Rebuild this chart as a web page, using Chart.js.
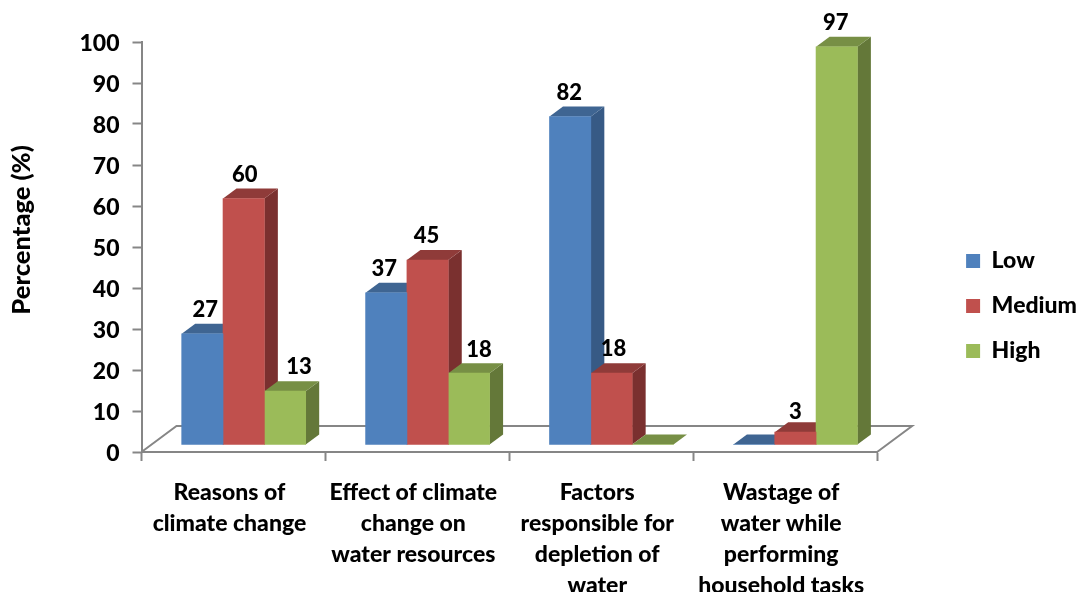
<!DOCTYPE html>
<html>
<head>
	<title>Percentage chart</title>
	<script src="https://cdn.jsdelivr.net/npm/chart.js"></script>
	<style type="text/css">
		html, body { margin: 0; padding: 0; background: #fff; }
		canvas { display: block; }
	</style>
</head>
<body>
	<canvas id="chart" width="1081" height="592"></canvas>
	<script>
		// chart values
		const categories = [
			['Reasons of', 'climate change'],
			['Effect of climate', 'change on', 'water resources'],
			['Factors', 'responsible for', 'depletion of', 'water'],
			['Wastage of', 'water while', 'performing', 'household tasks']
		];
		const seriesNames = ['Low', 'Medium', 'High'];
		// heights as drawn (the printed labels do not always agree with the bars)
		const lowValues = [27, 37, 80, 0];
		const mediumValues = [60, 45, 17.4, 3];
		const highValues = [13, 17.4, 0, 97];
		const lowLabels = ['27', '37', '82', ''];
		const mediumLabels = ['60', '45', '18', '3'];
		const highLabels = ['13', '18', '', '97'];
		const yTitle = 'Percentage (%)';

		const FONT = 'Lato, sans-serif';
		const WEIGHT = '900';
		const AXIS_GREY = '#868686';
		const faces = [
			{ front: '#4F81BD', top: '#3F6592', side: '#375A85' },
			{ front: '#C0504D', top: '#8F3B39', side: '#7A302F' },
			{ front: '#9BBB59', top: '#778F45', side: '#647839' }
		];
		// hand placed label nudges from the original: [dx, dy] per series and category
		const labelNudge = [
			[[3, 0], [-2, 0], [-1, 0], [0, 0]],
			[[1, 0], [-1, 0], [2, 0], [0, 4]],
			[[14, 0], [10, 1], [0, 0], [-1, 0]]
		];

		function toPoints(values) {
			return values.map((v, i) => ({ x: i + 1, y: v }));
		}

		function poly(ctx, color, pts) {
			ctx.fillStyle = color;
			ctx.beginPath();
			pts.forEach((p, i) => i ? ctx.lineTo(p[0], p[1]) : ctx.moveTo(p[0], p[1]));
			ctx.closePath();
			ctx.fill();
		}

		// floor of the 3D box and the side / top faces of the bars
		const depthPlugin = {
			id: 'depth',
			beforeDatasetsDraw(chart) {
				const ctx = chart.ctx, area = chart.chartArea;
				const fx = 35, fy = 26, dx = 13.5, dy = 10;
				ctx.save();
				ctx.strokeStyle = AXIS_GREY;
				ctx.lineWidth = 2;
				ctx.beginPath();
				ctx.moveTo(area.left, area.bottom);
				ctx.lineTo(area.left + fx, area.bottom - fy);
				ctx.lineTo(area.right + fx, area.bottom - fy);
				ctx.lineTo(area.right, area.bottom);
				ctx.stroke();
				chart.data.datasets.forEach((ds, d) => {
					chart.getDatasetMeta(d).data.forEach(bar => {
						const l = bar.x - bar.width / 2, r = bar.x + bar.width / 2;
						poly(ctx, faces[d].side, [[r, bar.y], [r + dx, bar.y - dy], [r + dx, bar.base - dy], [r, bar.base]]);
						poly(ctx, faces[d].top, [[l, bar.y], [l + dx, bar.y - dy], [r + dx, bar.y - dy], [r, bar.y]]);
					});
				});
				ctx.restore();
			},
			afterDatasetsDraw(chart) {
				const ctx = chart.ctx;
				const printed = [lowLabels, mediumLabels, highLabels];
				ctx.save();
				ctx.fillStyle = '#000';
				ctx.font = WEIGHT + ' 22px ' + FONT;
				ctx.textAlign = 'center';
				ctx.textBaseline = 'middle';
				chart.data.datasets.forEach((ds, d) => {
					chart.getDatasetMeta(d).data.forEach((bar, i) => {
						const nudge = labelNudge[d][i];
						ctx.fillText(printed[d][i], bar.x + nudge[0], bar.y - 24 + nudge[1]);
					});
				});
				// axis title sits above the middle of the axis
				ctx.font = WEIGHT + ' 25.5px ' + FONT;
				ctx.translate(22, 230);
				ctx.rotate(-Math.PI / 2);
				ctx.fillText(yTitle, 0, 0);
				ctx.restore();
			}
		};

		const tickFont = { family: FONT, size: 23, weight: WEIGHT, lineHeight: 1.348 };

		new Chart(document.getElementById('chart'), {
			type: 'bar',
			data: {
				labels: categories,
				datasets: [
					{ label: seriesNames[0], data: toPoints(lowValues), backgroundColor: faces[0].front },
					{ label: seriesNames[1], data: toPoints(mediumValues), backgroundColor: faces[1].front },
					{ label: seriesNames[2], data: toPoints(highValues), backgroundColor: faces[2].front }
				].map(ds => Object.assign(ds, {
					xAxisID: 'xBars',
					yAxisID: 'yBars',
					barThickness: 41.33
				}))
			},
			options: {
				responsive: false,
				animation: false,
				layout: { padding: { top: 20, bottom: 0, left: 0, right: -6 } },
				plugins: {
					tooltip: { enabled: false },
					legend: {
						position: 'right',
						labels: {
							boxWidth: 14,
							boxHeight: 14,
							padding: 22,
							color: '#000',
							font: { family: FONT, size: 23, weight: WEIGHT }
						}
					}
				},
				scales: {
					x: {
						type: 'category',
						offset: true,
						grid: { offset: true, drawOnChartArea: false, tickLength: 9, tickColor: AXIS_GREY, tickWidth: 2 },
						border: { color: AXIS_GREY, width: 2 },
						ticks: { color: '#000', font: tickFont, padding: 16, maxRotation: 0, autoSkip: false, labelOffset: -4 },
						afterFit(s) { s.height = 140; }
					},
					y: {
						min: 0,
						max: 100,
						grid: { drawOnChartArea: false, tickLength: 9, tickColor: AXIS_GREY, tickWidth: 2 },
						border: { color: AXIS_GREY, width: 2 },
						ticks: { stepSize: 10, color: '#000', font: tickFont, padding: 13, labelOffset: 1.5 },
						afterFit(s) { s.width = 141.5; }
					},
					// bars stand forward of the axis box, so they get their own hidden scales
					xBars: { axis: 'x', type: 'linear', display: false, offset: false, min: 0.4443, max: 4.4443 },
					yBars: { axis: 'y', type: 'linear', display: false, min: -1.83, max: 98.17 },
					// empty axes that keep the gap above the plot and between the floor and the legend
					xGap: {
						axis: 'x',
						type: 'linear',
						position: 'top',
						ticks: { display: false },
						grid: { display: false },
						border: { display: false },
						afterFit(s) { s.height = 22; }
					},
					yGap: {
						axis: 'y',
						type: 'linear',
						position: 'right',
						ticks: { display: false },
						grid: { display: false },
						border: { display: false },
						afterFit(s) { s.width = 67; }
					}
				}
			},
			plugins: [depthPlugin]
		});
	</script>
</body>
</html>
